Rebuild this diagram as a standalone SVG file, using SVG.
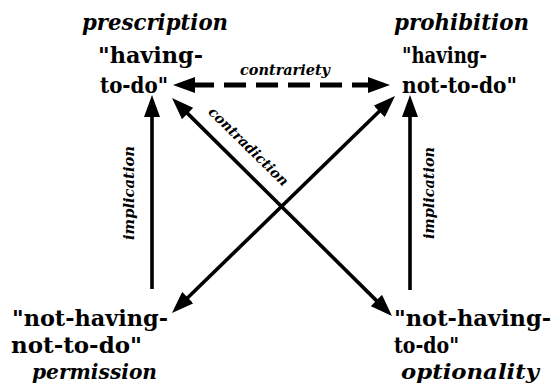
<svg xmlns="http://www.w3.org/2000/svg" width="554" height="386" viewBox="0 0 554 386">
<defs>
<style>
.term{font-family:"DejaVu Serif","Liberation Serif",serif;font-weight:bold;font-size:23px;fill:#000}
.name{font-family:"DejaVu Serif","Liberation Serif",serif;font-weight:bold;font-style:italic;font-size:23px;fill:#000}
.low{font-size:20px}
.rel{font-family:"DejaVu Serif","Liberation Serif",serif;font-weight:bold;font-style:italic;font-size:14px;fill:#000}
.solid{stroke:#000;stroke-width:3.6;fill:none}
.dash{stroke:#000;stroke-width:5;fill:none;stroke-dasharray:22 10}
</style>
<marker id="ah" viewBox="0 0 22 16" refX="3" refY="8" markerWidth="22" markerHeight="16" markerUnits="userSpaceOnUse" orient="auto-start-reverse">
<path d="M0,0 L22,8 L0,16 Z" fill="#000"/>
</marker>
</defs>
<rect width="554" height="386" fill="#fff"/>
<g id="connectors">
<line id="contrariety" class="dash" x1="192" y1="85" x2="371" y2="85" marker-start="url(#ah)" marker-end="url(#ah)"/>
<line id="implication-left" class="solid" x1="152" y1="289" x2="152" y2="114" marker-end="url(#ah)"/>
<line id="implication-right" class="solid" x1="410" y1="290" x2="410" y2="114" marker-end="url(#ah)"/>
<line id="contradiction-a" class="solid" x1="185.6" y1="299.7" x2="381.4" y2="109.3" marker-start="url(#ah)" marker-end="url(#ah)"/>
<line id="contradiction-b" class="solid" x1="185.5" y1="111.4" x2="378.5" y2="302.6" marker-start="url(#ah)" marker-end="url(#ah)"/>
<text class="rel" x="285" y="75" text-anchor="middle" textLength="90" lengthAdjust="spacingAndGlyphs">contrariety</text>
<text class="rel" transform="translate(248,147) rotate(44.5)" x="0" y="4" text-anchor="middle" textLength="106" lengthAdjust="spacingAndGlyphs">contradiction</text>
<text class="rel" transform="translate(134,193) rotate(-90)" x="0" y="0" text-anchor="middle" textLength="94" lengthAdjust="spacingAndGlyphs">implication</text>
<text class="rel" transform="translate(434,193) rotate(-90)" x="0" y="0" text-anchor="middle" textLength="92" lengthAdjust="spacingAndGlyphs">implication</text>
</g>
<g id="node-prescription">
<text class="name" x="82" y="30" textLength="146" lengthAdjust="spacingAndGlyphs">prescription</text>
<text class="term" x="98" y="63" textLength="105" lengthAdjust="spacingAndGlyphs">"having-</text>
<text class="term" x="100" y="93" textLength="68" lengthAdjust="spacingAndGlyphs">to-do"</text>
</g>
<g id="node-prohibition">
<text class="name" x="394" y="30" textLength="135" lengthAdjust="spacingAndGlyphs">prohibition</text>
<text class="term" x="402" y="63" textLength="85" lengthAdjust="spacingAndGlyphs">"having-</text>
<text class="term" x="402" y="93" textLength="115" lengthAdjust="spacingAndGlyphs">not-to-do"</text>
</g>
<g id="node-permission">
<text class="term" x="12" y="326" textLength="156" lengthAdjust="spacingAndGlyphs">"not-having-</text>
<text class="term" x="11" y="353" textLength="131" lengthAdjust="spacingAndGlyphs">not-to-do"</text>
<text class="name low" x="32" y="379" textLength="125" lengthAdjust="spacingAndGlyphs">permission</text>
</g>
<g id="node-optionality">
<text class="term" x="394" y="326" textLength="157" lengthAdjust="spacingAndGlyphs">"not-having-</text>
<text class="term" x="394" y="353" textLength="65" lengthAdjust="spacingAndGlyphs">to-do"</text>
<text class="name low" x="401" y="379" textLength="138" lengthAdjust="spacingAndGlyphs">optionality</text>
</g>
</svg>
